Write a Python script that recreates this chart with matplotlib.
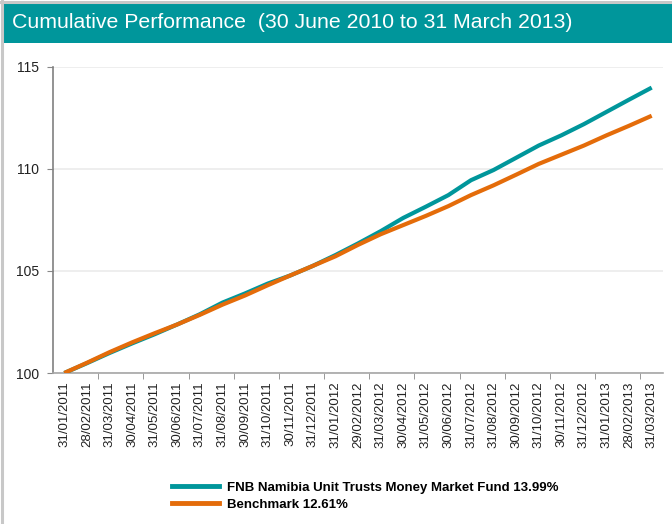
import matplotlib
matplotlib.use("Agg")
import matplotlib.pyplot as plt
from matplotlib.patches import Rectangle
from matplotlib.lines import Line2D

plt.rcParams['font.family'] = ['Liberation Sans', 'DejaVu Sans']

dates = ["31/01/2011", "28/02/2011", "31/03/2011", "30/04/2011", "31/05/2011", "30/06/2011",
         "31/07/2011", "31/08/2011", "30/09/2011", "31/10/2011", "30/11/2011", "31/12/2011",
         "31/01/2012", "29/02/2012", "31/03/2012", "30/04/2012", "31/05/2012", "30/06/2012",
         "31/07/2012", "31/08/2012", "30/09/2012", "31/10/2012", "30/11/2012", "31/12/2012",
         "31/01/2013", "28/02/2013", "31/03/2013"]

fund = [100.00, 100.48, 100.98, 101.45, 101.90, 102.38, 102.88, 103.45, 103.90, 104.38,
        104.78, 105.25, 105.78, 106.35, 106.95, 107.60, 108.15, 108.72, 109.45, 109.95,
        110.55, 111.15, 111.65, 112.20, 112.80, 113.40, 113.99]

benchmark = [100.00, 100.50, 101.02, 101.50, 101.95, 102.38, 102.85, 103.35, 103.80, 104.30,
             104.78, 105.25, 105.72, 106.28, 106.80, 107.25, 107.70, 108.18, 108.72, 109.20,
             109.72, 110.25, 110.70, 111.15, 111.65, 112.12, 112.61]

fund_label = "FNB Namibia Unit Trusts Money Market Fund 13.99%"
bench_label = "Benchmark 12.61%"
title = "Cumulative Performance  (30 June 2010 to 31 March 2013)"
yticks = [100, 105, 110, 115]

teal = "#00969b"
orange = "#e46c0a"

W, H = 672, 524
fig = plt.figure(figsize=(W / 100, H / 100), dpi=100)
fig.patch.set_facecolor("white")

# outer border (left and top only)
fig.add_artist(Line2D([1.5 / W, 1.5 / W], [0, 1], transform=fig.transFigure,
                      color="#c8c8c8", lw=2.2))
fig.add_artist(Line2D([0, 1], [1 - 1.5 / H, 1 - 1.5 / H], transform=fig.transFigure,
                      color="#c8c8c8", lw=2.2))
# title bar
fig.add_artist(Rectangle((4 / W, 1 - 43 / H), 1 - 4 / W, 40 / H, transform=fig.transFigure,
                         facecolor="#00969b", edgecolor="none"))
fig.text(12 / W, 1 - 23 / H, title, color="white", fontsize=15.3, va="center", ha="left")

ax = fig.add_axes([53 / W, 1 - 373 / H, (663 - 53) / W, (373 - 67) / H])
x = list(range(len(dates)))
ax.plot(x, fund, color=teal, lw=3, solid_capstyle="butt", zorder=3)
ax.plot(x, benchmark, color=orange, lw=3, solid_capstyle="butt", zorder=4)

ax.set_xlim(-0.5, len(dates) - 0.5)
ax.set_ylim(100, 115)
ax.set_yticks(yticks)
ax.set_yticklabels([str(v) for v in yticks], fontsize=10, color="#222222")
ax.yaxis.grid(True, color="#ebebeb", lw=1.2)
ax.set_axisbelow(True)
ax.tick_params(axis="y", length=4, color="#888888", pad=6)

ax.set_xticks(x)
ax.set_xticklabels(dates, rotation=90, fontsize=9.5, color="#222222")
ax.tick_params(axis="x", length=0, pad=6)
ax.set_xticks([b - 0.5 for b in range(2, len(dates), 2)], minor=True)
ax.tick_params(axis="x", which="minor", length=4, color="#888888")

for s in ["top", "right"]:
    ax.spines[s].set_visible(False)
ax.spines["left"].set_color("#808080")
ax.spines["left"].set_linewidth(1.2)
ax.spines["bottom"].set_color("#a6a6a6")
ax.spines["bottom"].set_linewidth(1.2)

handles = [Line2D([], [], color=teal, lw=3.5), Line2D([], [], color=orange, lw=3.5)]
leg = fig.legend(handles, [fund_label, bench_label], loc="center left",
                 bbox_to_anchor=(160 / W, 1 - 496 / H), frameon=False,
                 prop={"size": 9.5, "weight": "bold"}, handlelength=3.6,
                 handletextpad=0.6, labelspacing=0.35)

fig.savefig("out.png", dpi=100, facecolor="white")
